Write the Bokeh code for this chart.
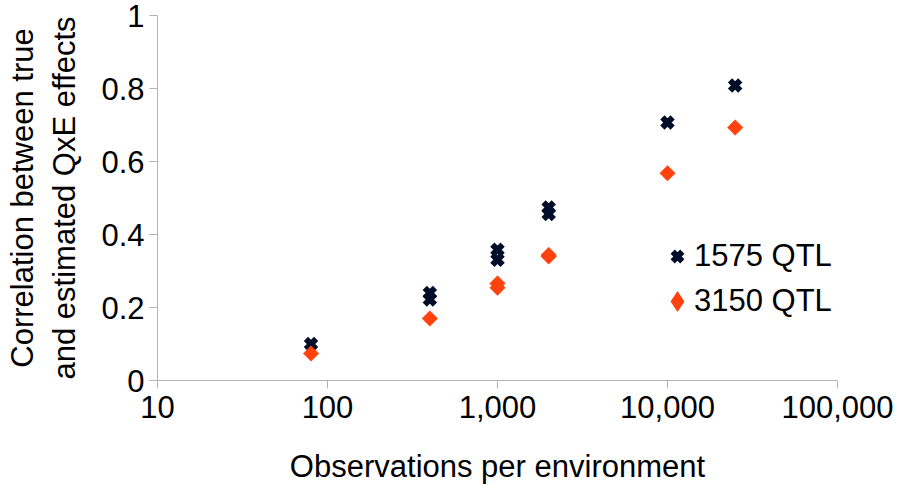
import numpy as np
from bokeh.plotting import figure
from bokeh.models import Range1d, FixedTicker, Legend, LegendItem
from bokeh.embed import file_html
from bokeh.resources import INLINE

# Data
obs_1575 = [80, 400, 400, 1000, 1000, 2000, 2000, 10000, 25000]
corr_1575 = [0.10, 0.24, 0.222, 0.358, 0.331, 0.474, 0.456, 0.707, 0.808]
obs_3150 = [80, 400, 1000, 1000, 2000, 2000, 10000, 25000]
corr_3150 = [0.074, 0.17, 0.266, 0.254, 0.344, 0.340, 0.568, 0.693]

series_names = ["1575 QTL", "3150 QTL"]
x_ticks = [10, 100, 1000, 10000, 100000]
x_tick_labels = ["10", "100", "1,000", "10,000", "100,000"]
y_ticks = [0, 0.2, 0.4, 0.6, 0.8, 1.0]
y_tick_labels = ["0", "0.2", "0.4", "0.6", "0.8", "1"]

FONT = "Liberation Sans"
FS = "31px"
AXIS_COLOR = "#b3b3b3"
C1 = "#000d28"
C2 = "#ff420e"

p = figure(width=903, height=486, x_axis_type="log",
           x_range=Range1d(10, 100000), y_range=Range1d(0, 1),
           output_backend="svg", toolbar_location=None,
           min_border_left=157, min_border_right=66,
           min_border_top=15, min_border_bottom=106)
p.outline_line_color = None
p.grid.visible = False
p.background_fill_color = "white"
p.border_fill_color = "white"

r1 = p.scatter(obs_1575, corr_1575, marker="x", size=14.5, line_width=6,
               line_color=C1, fill_color=C1)
r2 = p.scatter(obs_3150, corr_3150, marker="square", size=11, angle=np.pi / 4,
               line_color=C2, fill_color=C2, line_width=0.5)
# legend-only key for the diamond series (legend keys ignore marker angle)
r2_key = p.scatter([np.nan], [np.nan], marker="diamond", size=11, line_color=C2,
                   fill_color=C2, line_width=4, line_join="miter")

xa = p.xaxis[0]
xa.ticker = FixedTicker(ticks=x_ticks, minor_ticks=[])
xa.major_label_overrides = {t: l for t, l in zip(x_ticks, x_tick_labels)}
xa.axis_label = "Observations per environment"
ya = p.yaxis[0]
ya.ticker = FixedTicker(ticks=y_ticks, minor_ticks=[])
ya.major_label_overrides = {t: l for t, l in zip(y_ticks, y_tick_labels)}
ya.axis_label = "Correlation between true\nand estimated QxE effects"

for ax in (xa, ya):
    ax.axis_line_color = AXIS_COLOR
    ax.major_tick_line_color = AXIS_COLOR
    ax.minor_tick_line_color = None
    ax.major_tick_in = 0
    ax.major_tick_out = 8
    ax.major_label_text_font = FONT
    ax.major_label_text_font_size = FS
    ax.major_label_text_color = "black"
    ax.axis_label_text_font = FONT
    ax.axis_label_text_font_size = FS
    ax.axis_label_text_font_style = "normal"
    ax.axis_label_text_color = "black"
xa.major_label_standoff = 7
xa.axis_label_standoff = 28
ya.major_label_standoff = 5
ya.axis_label_standoff = 16

legend = Legend(items=[LegendItem(label=series_names[0], renderers=[r1]),
                       LegendItem(label=series_names[1], renderers=[r2_key])],
                location=(503, 61))
legend.background_fill_alpha = 0
legend.border_line_color = None
legend.label_text_font = FONT
legend.label_text_font_size = FS
legend.label_text_color = "black"
legend.glyph_width = 34
legend.glyph_height = 34
legend.label_height = 34
legend.label_width = 140
legend.spacing = 9
legend.padding = 0
legend.margin = 0
legend.label_standoff = 0
p.add_layout(legend)

open("out.html", "w").write(file_html(p, INLINE))
